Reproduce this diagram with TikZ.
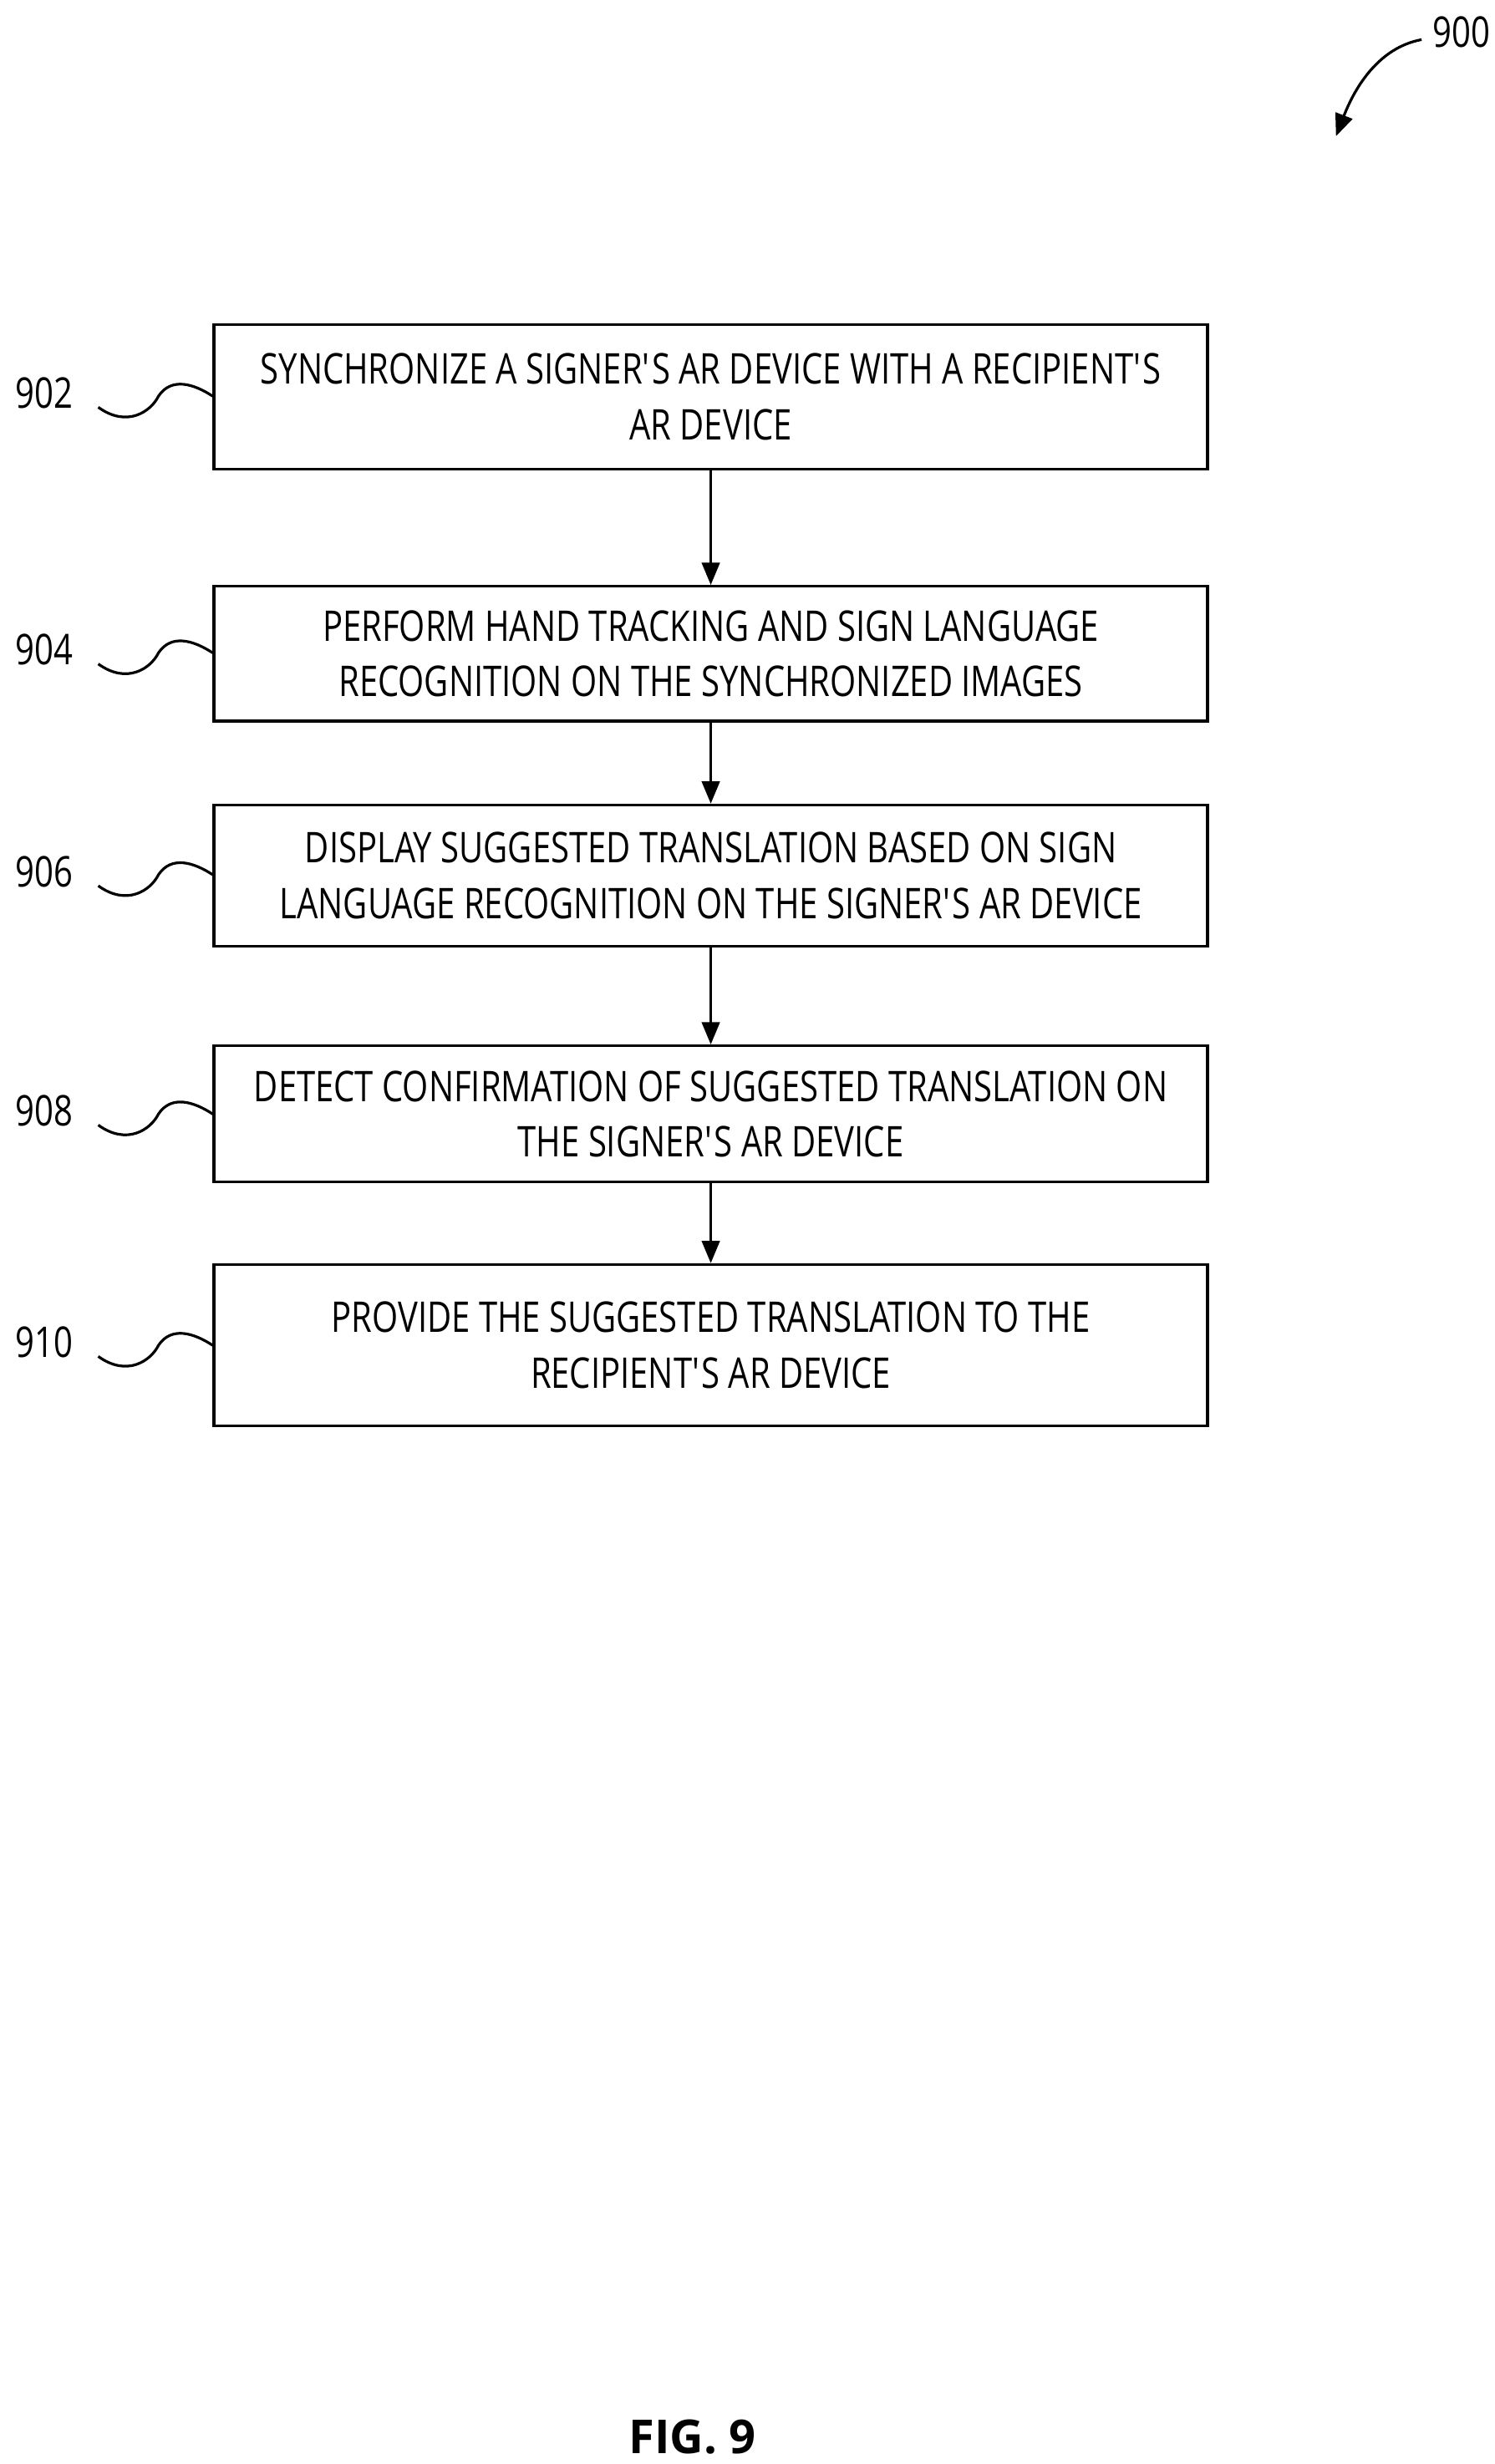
\documentclass[tikz,border=0pt]{standalone}
\usepackage{fontspec}
\setmainfont{Open Sans}[FakeStretch=0.79]
\newfontfamily\figfont{Open Sans}
\usetikzlibrary{arrows.meta,positioning}
\newcommand{\ap}{\textquotesingle}

\begin{document}
\begin{tikzpicture}[x=0.05cm, y=-0.05cm,
  box/.style={draw, line width=2.4pt, minimum width=31.35cm, align=center,
    font=\fontsize{38}{50}\selectfont, inner sep=0pt},
  arrow/.style={-{Triangle[length=20pt,width=16pt]}, line width=2.4pt},
  refnum/.style={font=\fontsize{38}{40}\selectfont},
  wave/.style={line width=2.4pt}
]
\useasboundingbox (0,0) rectangle (943,1555);

\node[box, minimum height=4.55cm] (B902) at (448.5,250.5) {SYNCHRONIZE A SIGNER\ap S AR DEVICE WITH A RECIPIENT\ap S\\AR DEVICE};
\node[box, minimum height=4.25cm] (B904) at (448.5,412.5) {PERFORM HAND TRACKING AND SIGN LANGUAGE\\RECOGNITION ON THE SYNCHRONIZED IMAGES};
\node[box, minimum height=4.45cm] (B906) at (448.5,552.5) {DISPLAY SUGGESTED TRANSLATION BASED ON SIGN\\LANGUAGE RECOGNITION ON THE SIGNER\ap S AR DEVICE};
\node[box, minimum height=4.3cm] (B908) at (448.5,703) {DETECT CONFIRMATION OF SUGGESTED TRANSLATION ON\\THE SIGNER\ap S AR DEVICE};
\node[box, minimum height=5.1cm] (B910) at (448.5,849) {PROVIDE THE SUGGESTED TRANSLATION TO THE\\RECIPIENT\ap S AR DEVICE};

\draw[arrow] (B902) -- (B904);
\draw[arrow] (B904) -- (B906);
\draw[arrow] (B906) -- (B908);
\draw[arrow] (B908) -- (B910);

% reference numerals
\foreach \n/\y in {902/250, 904/412, 906/552, 908/703, 910/849} {
  \node[refnum] (L\n) at (28,\y-2) {\n};
  \coordinate (W\n) at (62,\y+7);
  \draw[wave] (W\n) .. controls (80,\y+20) and (95,\y+10) .. (100,\y)
    .. controls (108,\y-12) and (122,\y-8) .. (B\n.west |- 0,\y);
}

\node[refnum] (F900) at (922,20) {900};
\coordinate (A900) at (897,25);
\draw[arrow] (A900) .. controls (870,30) and (855,55) .. (843,86);

\node[font=\figfont\fontsize{42}{42}\selectfont\bfseries] (FIG) at (437,1538) {FIG. 9};
\end{tikzpicture}
\end{document}
